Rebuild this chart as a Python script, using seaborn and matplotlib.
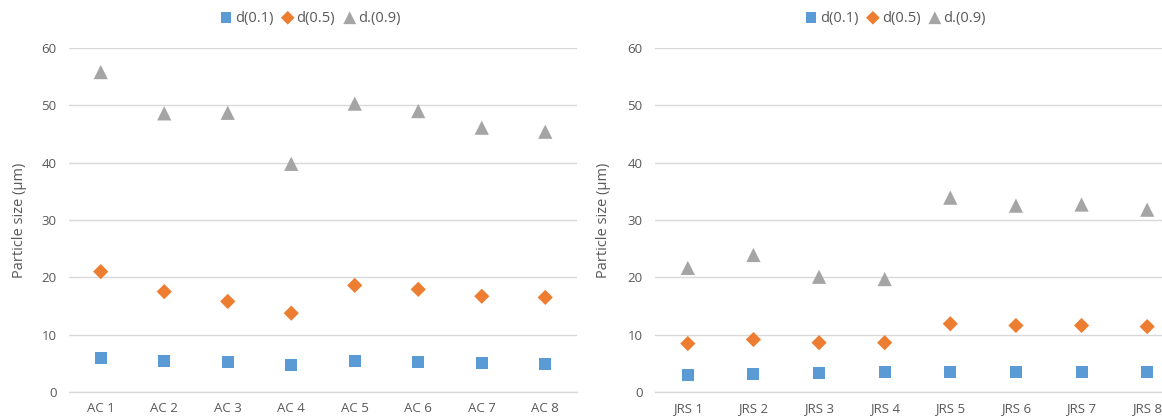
import matplotlib
matplotlib.use("Agg")
import matplotlib.pyplot as plt
import seaborn as sns

# ---- data ----
ac_labels = ["AC 1", "AC 2", "AC 3", "AC 4", "AC 5", "AC 6", "AC 7", "AC 8"]
ac_d10 = [6.0, 5.45, 5.2, 4.65, 5.45, 5.3, 5.0, 4.95]
ac_d50 = [21.0, 17.5, 15.8, 13.75, 18.6, 17.9, 16.7, 16.5]
ac_d90 = [55.8, 48.6, 48.7, 39.8, 50.3, 49.0, 46.1, 45.4]

jrs_labels = ["JRS 1", "JRS 2", "JRS 3", "JRS 4", "JRS 5", "JRS 6", "JRS 7", "JRS 8"]
jrs_d10 = [2.97, 3.14, 3.3, 3.5, 3.5, 3.5, 3.5, 3.5]
jrs_d50 = [8.45, 9.15, 8.6, 8.6, 11.9, 11.6, 11.6, 11.4]
jrs_d90 = [21.65, 23.9, 20.1, 19.7, 33.9, 32.5, 32.7, 31.8]

series_names = ["d(0.1)", "d(0.5)", "d.(0.9)"]
series_colors = ["#5B9BD5", "#ED7D31", "#A5A5A5"]
series_markers = ["s", "D", "^"]
series_sizes = [75, 60, 105]

y_label = "Particle size (\u03bcm)"

sns.set_theme(style="white")
plt.rcParams["font.family"] = ["Open Sans", "DejaVu Sans"]

TXT = "#595959"
GRID = "#D9D9D9"

fig = plt.figure(figsize=(11.62, 4.16), dpi=100)
W, H = 1162, 416

def make_ax(x0, x1, y_top, y_bot):
    return fig.add_axes([x0 / W, 1 - y_bot / H, (x1 - x0) / W, (y_bot - y_top) / H])

ax1 = make_ax(69, 577, 48, 392)
ax2 = make_ax(655, 1180, 48, 392)

panels = [
    (ax1, ac_labels, [ac_d10, ac_d50, ac_d90], 0.474, -0.083),
    (ax2, jrs_labels, [jrs_d10, jrs_d50, jrs_d90], 0.457, -0.084),
]

for ax, cats, vals_list, leg_x, lab_x in panels:
    for name, vals, col, mk, sz in zip(series_names, vals_list, series_colors,
                                         series_markers, series_sizes):
        sns.scatterplot(x=cats, y=vals, ax=ax, color=col, marker=mk, s=sz,
                        edgecolor="none", linewidth=0, label=name, zorder=3)
    ax.set_xlim(-0.5, 7.5)
    ax.set_ylim(0, 60)
    ax.set_yticks(range(0, 61, 10))
    ax.yaxis.grid(True, color=GRID, linewidth=1.0)
    ax.xaxis.grid(False)
    ax.set_axisbelow(True)
    for s in ["top", "right", "left"]:
        ax.spines[s].set_visible(False)
    ax.spines["bottom"].set_color(GRID)
    ax.spines["bottom"].set_linewidth(1.0)
    ax.tick_params(axis="both", length=0, colors=TXT, labelsize=9.5)
    ax.tick_params(axis="y", pad=9)
    ax.tick_params(axis="x", pad=7)
    ax.set_ylabel(y_label, color=TXT, fontsize=10.5)
    ax.yaxis.set_label_coords(lab_x, 0.5)
    ax.set_xlabel("")
    ax.legend(loc="center", bbox_to_anchor=(leg_x, 1.087), ncol=3, frameon=False,
              fontsize=10.5, labelcolor=TXT, handletextpad=0.1, columnspacing=0.5,
              handlelength=1.0, markerscale=0.9)

fig.savefig("out.png", dpi=100)
